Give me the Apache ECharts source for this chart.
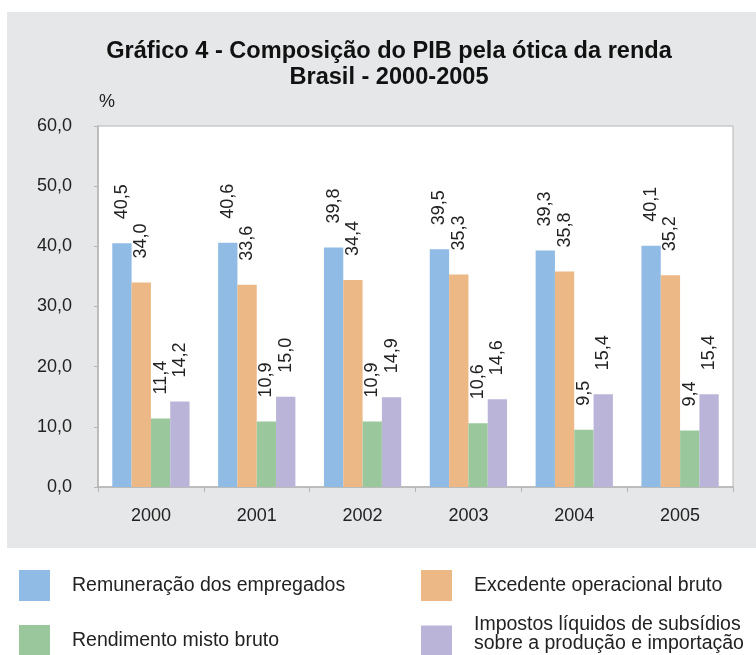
<!DOCTYPE html>
<html><head><meta charset="utf-8">
<script src="https://cdn.jsdelivr.net/npm/echarts@6/dist/echarts.min.js"></script>
<style>html,body{margin:0;padding:0;background:#fff}#c{width:756px;height:655px}</style>
</head><body><div id="c"></div>
<script>
const categories = ['2000','2001','2002','2003','2004','2005'];
const seriesNames = ['Remuneração dos empregados','Excedente operacional bruto','Rendimento misto bruto','Impostos líquidos de subsídios sobre a produção e importação'];
const remuneracao = [40.5, 40.6, 39.8, 39.5, 39.3, 40.1];
const excedente = [34.0, 33.6, 34.4, 35.3, 35.8, 35.2];
const rendimento = [11.4, 10.9, 10.9, 10.6, 9.5, 9.4];
const impostos = [14.2, 15.0, 14.9, 14.6, 15.4, 15.4];
const yTicks = [0, 10, 20, 30, 40, 50, 60];
const colors = ['#8fbbe5', '#ebb886', '#9bc79c', '#b9b4d8'];
const values = [remuneracao, excedente, rendimento, impostos];
const titleLines = ['Gráfico 4 - Composição do PIB pela ótica da renda', 'Brasil - 2000-2005'];

const fmt = v => Number(v).toFixed(1).replace('.', ',');
const sans = '"Liberation Sans", Arial, sans-serif';

// pick title size so that line 1 has the reference width
const cv = document.createElement('canvas').getContext('2d');
cv.font = 'bold 22px "Liberation Sans", Arial, sans-serif';
const titleSize = Math.min(24, 22 * 566 / cv.measureText(titleLines[0]).width);

const legendBase = {itemWidth: 31, itemHeight: 31, icon: 'rect', padding: 0, selectedMode: false,
  textStyle: {fontFamily: sans, fontSize: 19.5, color: '#222', padding: [0,0,0,17]}};

const chart = echarts.init(document.getElementById('c'), null, {renderer: 'canvas'});
chart.setOption({
  backgroundColor: '#ffffff',
  animation: false,
  graphic: [
    {type: 'rect', z: -10, shape: {x: 7, y: 12, width: 760, height: 536}, style: {fill: '#e6e7e8'}},
    {type: 'text', x: 389, y: 51,
     style: {text: titleLines[0], fontFamily: sans, fontWeight: 'bold', fontSize: titleSize, fill: '#111', textAlign: 'center', textVerticalAlign: 'middle'}},
    {type: 'text', x: 389, y: 77,
     style: {text: titleLines[1], fontFamily: sans, fontWeight: 'bold', fontSize: titleSize, fill: '#111', textAlign: 'center', textVerticalAlign: 'middle'}},
    {type: 'text', x: 99, y: 93, style: {text: '%', fontFamily: sans, fontSize: 18, fill: '#222'}}
  ],
  grid: {left: 98, right: 23, top: 126, bottom: 168, show: true, backgroundColor: '#ffffff', borderColor: '#b5b5b5', borderWidth: 1},
  legend: [
    Object.assign({}, legendBase, {left: 19, top: 570, data: [seriesNames[0]]}),
    Object.assign({}, legendBase, {left: 19, top: 625, data: [seriesNames[2]]}),
    Object.assign({}, legendBase, {left: 421, top: 570, data: [seriesNames[1]]}),
    Object.assign({}, legendBase, {left: 421, top: 615, data: [seriesNames[3]],
      formatter: () => 'Impostos líquidos de subsídios\nsobre a produção e importação\n{s| }',
      textStyle: {fontFamily: sans, fontSize: 19.5, lineHeight: 19, color: '#222', padding: [0,0,0,17],
        rich: {s: {fontSize: 10, lineHeight: 13}}}})
  ],
  xAxis: {
    type: 'category', data: categories,
    axisLine: {lineStyle: {color: '#b5b5b5', width: 1.5}},
    axisTick: {show: true, alignWithLabel: false, length: 5, lineStyle: {color: '#b5b5b5'}},
    axisLabel: {fontFamily: sans, fontSize: 18, color: '#222', margin: 20}
  },
  yAxis: {
    type: 'value', min: yTicks[0], max: yTicks[yTicks.length - 1], interval: 10,
    axisLine: {show: true, lineStyle: {color: '#b5b5b5', width: 1.5}},
    axisTick: {show: true, length: 4, lineStyle: {color: '#b5b5b5'}},
    splitLine: {show: false},
    axisLabel: {fontFamily: sans, fontSize: 18, color: '#222', margin: 26, formatter: fmt}
  },
  series: values.map((d, i) => ({
    name: seriesNames[i], type: 'bar', data: d,
    barGap: '0%', barCategoryGap: '27%',
    itemStyle: {color: colors[i]},
    label: {show: true, position: 'top', distance: 24, rotate: 90, align: 'left', verticalAlign: 'middle',
      fontFamily: sans, fontSize: 18, color: '#222', formatter: p => fmt(p.value)}
  }))
});
</script></body></html>
